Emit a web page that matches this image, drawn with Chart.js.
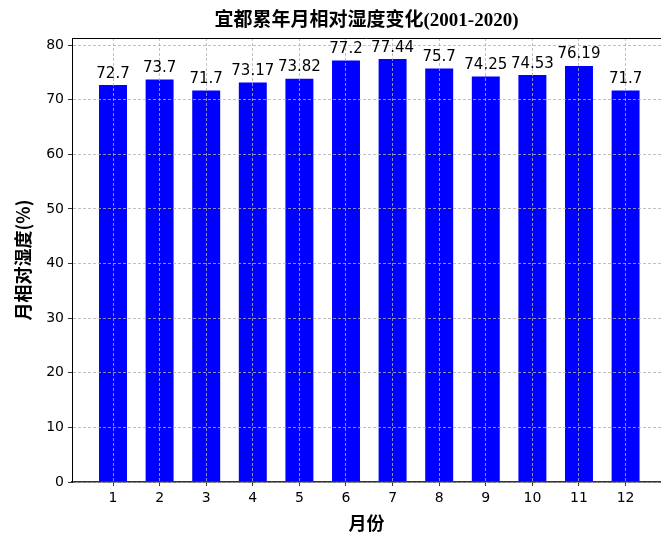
<!DOCTYPE html>
<html>
<head>
<meta charset="utf-8">
<script src="https://cdn.jsdelivr.net/npm/chart.js@4"></script>
<style>
  body { margin: 0; background: #fff; overflow: hidden; }
</style>
</head>
<body>
<canvas id="myChart" width="661" height="536"></canvas>
<script>
const months = [1,2,3,4,5,6,7,8,9,10,11,12];
const humidity = [72.7,73.7,71.7,73.17,73.82,77.2,77.44,75.7,74.25,74.53,76.19,71.7];
const yTicks = [0,10,20,30,40,50,60,70,80];

const chartTitle = '宜都累年月相对湿度变化(2001-2020)';

// title over the plot area, top frame line, and labels above bars
const extras = {
  id: 'extras',
  afterDraw(chart) {
    const ctx = chart.ctx;
    const a = chart.chartArea;
    ctx.save();
    ctx.strokeStyle = '#000';
    ctx.lineWidth = 1;
    ctx.beginPath();
    ctx.moveTo(a.left, a.top + 0.5);
    ctx.lineTo(a.right, a.top + 0.5);
    ctx.stroke();

    ctx.fillStyle = '#000';
    ctx.font = 'bold 19px "Liberation Serif", "Noto Sans CJK SC"';
    ctx.textAlign = 'center';
    ctx.textBaseline = 'middle';
    ctx.fillText(chartTitle, (a.left + a.right) / 2, 21);

    ctx.font = '15px "DejaVu Sans"';
    ctx.textBaseline = 'alphabetic';
    const x = chart.scales.x, y = chart.scales.y;
    humidity.forEach((v, i) => {
      ctx.fillText(String(v), x.getPixelForValue(months[i]), y.getPixelForValue(v + 1) - 2);
    });
    ctx.restore();
  }
};

new Chart("myChart", {
  type: "bar",
  data: {
    datasets: [{
      data: months.map((m, i) => ({x: m, y: humidity[i]})),
      backgroundColor: "#0000ff",
      borderWidth: 0,
      categoryPercentage: 1,
      barPercentage: 0.6
    }]
  },
  options: {
    responsive: false,
    animation: false,
    devicePixelRatio: 1,
    layout: {padding: {top: 38, right: 0, left: 0, bottom: 0}},
    plugins: {legend: {display: false}, tooltip: {enabled: false}},
    scales: {
      x: {
        type: 'linear',
        min: 0.12,
        max: 12.76,
        offset: false,
        afterBuildTicks: s => { s.ticks = months.map(v => ({value: v})); },
        afterFit: s => { s.height = 54; },
        grid: {z: 1, offset: false, color: '#b0b0b0', lineWidth: 0.8, tickColor: '#000', tickBorderDash: [], tickLength: 4},
        border: {z: 2, color: '#333', width: 1.5, dash: [3, 2]},
        ticks: {color: '#000', font: {family: 'DejaVu Sans', size: 14}, padding: 4, maxRotation: 0},
        title: {display: true, text: '月份', color: '#000', font: {family: '"Noto Sans CJK SC"', size: 18, weight: 'bold'}, padding: {top: 0, bottom: 2}}
      },
      y: {
        min: 0,
        max: 81.3,
        afterBuildTicks: s => { s.ticks = yTicks.map(v => ({value: v})); },
        afterFit: s => { s.width = 72; },
        grid: {z: 1, color: '#b0b0b0', lineWidth: 0.8, tickColor: '#000', tickBorderDash: [], tickLength: 4},
        border: {z: 2, color: '#000', width: 1, dash: [3, 2]},
        ticks: {color: '#000', font: {family: 'DejaVu Sans', size: 14}, padding: 4},
        title: {display: true, text: '月相对湿度(%)', color: '#000', font: {family: '"Noto Sans CJK SC"', size: 18, weight: 'bold'}, padding: {top: 12, bottom: 0}}
      }
    }
  },
  plugins: [extras]
});
</script>
</body>
</html>
